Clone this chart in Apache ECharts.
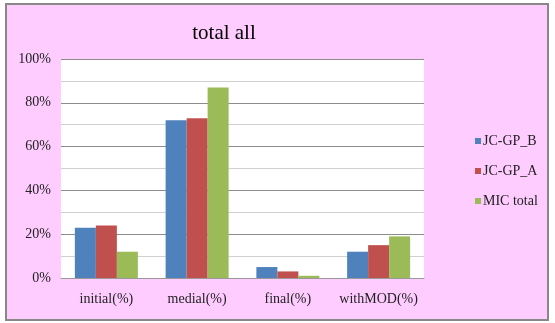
<!DOCTYPE html>
<html>
<head>
<meta charset="utf-8">
<script src="https://cdn.jsdelivr.net/npm/echarts@6/dist/echarts.min.js"></script>
<style>
  html, body { margin: 0; padding: 0; background: #fff; }
  #chart { width: 555px; height: 323px; }
</style>
</head>
<body>
<div id="chart"></div>
<script>
const categories = ['initial(%)', 'medial(%)', 'final(%)', 'withMOD(%)'];
const seriesNames = ['JC-GP_B', 'JC-GP_A', 'MIC total'];
const jcgpB = [23, 72, 5, 12];
const jcgpA = [24, 73, 3, 15];
const micTotal = [12, 87, 1, 19];
const colors = ['#4F81BD', '#C0504D', '#9BBB59'];

const fontFam = '"Liberation Serif", "DejaVu Serif", serif';
const chart = echarts.init(document.getElementById('chart'));

const option = {
  backgroundColor: '#fff',
  animation: false,
  graphic: [{
    type: 'rect',
    z: -10,
    shape: { x: 6, y: 4, width: 542, height: 316 },
    style: { fill: '#FFCCFF', stroke: '#888', lineWidth: 2 }
  }],
  title: {
    text: 'total all',
    left: 219,
    top: 18,
    textAlign: 'center',
    textStyle: { fontFamily: fontFam, fontSize: 21, fontWeight: 'normal', color: '#000' }
  },
  legend: {
    orient: 'vertical',
    left: 470,
    top: 129,
    itemWidth: 6,
    itemHeight: 6,
    itemGap: 16,
    icon: 'rect',
    data: seriesNames,
    textStyle: { fontFamily: fontFam, fontSize: 14, color: '#222', padding: [0, 0, 0, -3] }
  },
  grid: {
    left: 61,
    right: 131,
    top: 59,
    bottom: 45,
    show: true,
    backgroundColor: '#fff',
    borderWidth: 0
  },
  xAxis: {
    type: 'category',
    data: categories,
    axisTick: { show: false },
    axisLine: { lineStyle: { color: '#999', width: 1 } },
    axisLabel: { interval: 0, fontFamily: fontFam, fontSize: 14, color: '#222', margin: 14 }
  },
  yAxis: {
    type: 'value',
    min: 0,
    max: 100,
    interval: 20,
    axisLabel: { formatter: '{value}%', fontFamily: fontFam, fontSize: 14, color: '#222', margin: 10 },
    axisLine: { show: false },
    axisTick: { show: false },
    splitLine: { lineStyle: { color: '#8c8c8c', width: 1 } },
    minorTick: { show: false, splitNumber: 2 },
    minorSplitLine: { show: true, lineStyle: { color: '#d0d0d0', width: 1 } }
  },
  series: [
    { name: seriesNames[0], type: 'bar', data: jcgpB, barWidth: 21, barGap: '0%', itemStyle: { color: colors[0] } },
    { name: seriesNames[1], type: 'bar', data: jcgpA, barWidth: 21, barGap: '0%', itemStyle: { color: colors[1] } },
    { name: seriesNames[2], type: 'bar', data: micTotal, barWidth: 21, barGap: '0%', itemStyle: { color: colors[2] } }
  ]
};

chart.setOption(option);
</script>
</body>
</html>
